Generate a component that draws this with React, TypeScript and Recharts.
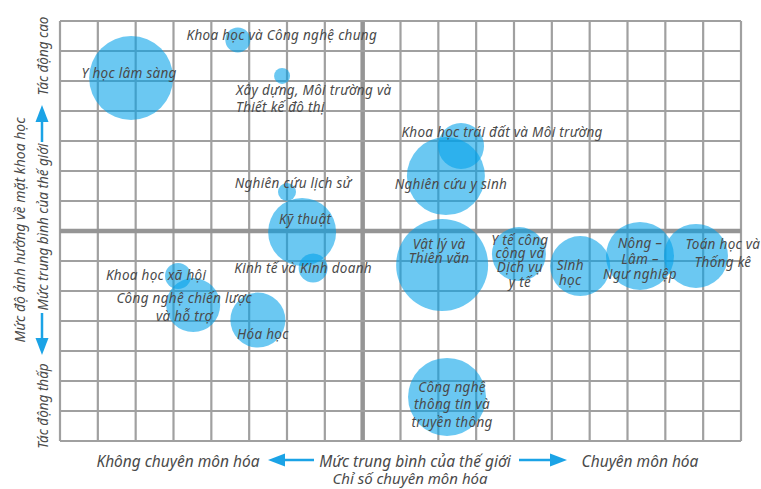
import React from 'react';
import { ScatterChart, Scatter, XAxis, YAxis, ZAxis, ReferenceLine } from 'recharts';

if (typeof document !== 'undefined') document.body.style.margin = '0';

// fields of science: specialisation index (x), scientific impact (y), bubble weight (z)
const fields = [
  'Y học lâm sàng',
  'Khoa học và Công nghệ chung',
  'Xây dựng, Môi trường và Thiết kế đô thị',
  'Nghiên cứu lịch sử',
  'Kỹ thuật',
  'Kinh tế và Kinh doanh',
  'Khoa học xã hội',
  'Công nghệ chiến lược và hỗ trợ',
  'Hóa học',
  'Khoa học trái đất và Môi trường',
  'Nghiên cứu y sinh',
  'Vật lý và Thiên văn',
  'Y tế công cộng và Dịch vụ y tế',
  'Sinh học',
  'Nông – Lâm – Ngư nghiệp',
  'Toán học và Thống kê',
  'Công nghệ thông tin và truyền thông',
];
const specialization = [1.88, 4.7, 5.87, 6.0, 6.4, 6.69, 3.12, 3.52, 5.23, 10.6, 10.2, 10.1, 12.13, 13.75, 15.33, 16.81, 10.23];
const impact = [12.1, 13.37, 12.17, 8.3, 6.97, 5.77, 5.5, 4.53, 4.03, 9.83, 8.83, 5.87, 6.23, 5.83, 6.17, 6.17, 1.47];
const weight = [1764, 156, 64, 81, 1156, 210, 169, 729, 756, 529, 1521, 2116, 729, 900, 1156, 1024, 1521];

// text shown on the chart (line breaks as printed)
const labelLines = [
  ['Y học lâm sàng'],
  ['Khoa học và Công nghệ chung'],
  ['Xây dựng, Môi trường và', 'Thiết kế đô thị'],
  ['Nghiên cứu lịch sử'],
  ['Kỹ thuật'],
  ['Kinh tế và Kinh doanh'],
  ['Khoa học xã hội'],
  ['Công nghệ chiến lược', 'và hỗ trợ'],
  ['Hóa học'],
  ['Khoa học trái đất và Môi trường'],
  ['Nghiên cứu y sinh'],
  ['Vật lý và', 'Thiên văn'],
  ['Y tế công', 'cộng và', 'Dịch vụ', 'y tế'],
  ['Sinh', 'học'],
  ['Nông –', 'Lâm –', 'Ngư nghiệp'],
  ['Toán học và', 'Thống kê'],
  ['Công nghệ', 'thông tin và', 'truyền thông'],
];

const xTicks = Array.from({ length: 19 }, (_, i) => i);
const yTicks = Array.from({ length: 15 }, (_, i) => i);
const xMean = 8;
const yMean = 7;

// label placement relative to bubble centre (layout only)
const labelLayout: { dx: number; dy: number[]; anchor?: 'start' | 'middle' }[] = [
  { dx: -2, dy: [-5] },
  { dx: 44, dy: [-5] },
  { dx: -46, dy: [14, 31], anchor: 'start' },
  { dx: 6, dy: [-9] },
  { dx: 3, dy: [-13] },
  { dx: -10, dy: [0] },
  { dx: -22, dy: [-1] },
  { dx: -9, dy: [-7, 11] },
  { dx: 5, dy: [14] },
  { dx: 41, dy: [-14] },
  { dx: 5, dy: [8] },
  { dx: -3, dy: [-21, -7] },
  { dx: 1, dy: [-14, -1, 13, 28] },
  { dx: -10, dy: [-1, 14] },
  { dx: 0, dy: [-13, 3, 18] },
  { dx: 27, dy: [-12, 6] },
  { dx: 5, dy: [-10, 7, 25] },
];

const rows = fields.map((name, i) => ({
  name,
  idx: i,
  x: specialization[i],
  y: impact[i],
  z: weight[i],
}));

const GRID = '#a0a0a0';
const BLUE = '#1ba3e6';
const TEXT = '#4a4a4a';
const FONT = '"Noto Sans", "Open Sans", sans-serif';

const BubbleLabel = (props: any) => {
  const { cx, cy, payload } = props;
  if (cx == null || cy == null || !payload) return null;
  const lay = labelLayout[payload.idx];
  const lines = labelLines[payload.idx];
  return (
    <g>
      {lines.map((line, k) => (
        <text
          key={k}
          x={cx + lay.dx}
          y={cy + lay.dy[k]}
          textAnchor={lay.anchor || 'middle'}
          dominantBaseline="central"
          fontFamily={FONT}
          fontStyle="italic"
          fontSize={13.5}
          letterSpacing={0.3}
          fill={TEXT}
        >
          {line}
        </text>
      ))}
    </g>
  );
};

const Arrow = ({ x1, y1, x2, y2 }: { x1: number; y1: number; x2: number; y2: number }) => {
  // head at (x2, y2)
  const len = Math.hypot(x2 - x1, y2 - y1);
  const ux = (x2 - x1) / len;
  const uy = (y2 - y1) / len;
  const hl = 17;
  const hw = 6.5;
  const bx = x2 - ux * hl;
  const by = y2 - uy * hl;
  return (
    <g>
      <line x1={x1} y1={y1} x2={bx} y2={by} stroke={BLUE} strokeWidth={2.5} />
      <polygon
        points={`${x2},${y2} ${bx - uy * hw},${by + ux * hw} ${bx + uy * hw},${by - ux * hw}`}
        fill={BLUE}
      />
    </g>
  );
};

export default function App() {
  const titleStyle = { fontFamily: FONT, fontStyle: 'italic' as const, fill: TEXT };
  return (
    <div style={{ position: 'relative', width: 761, height: 489, background: '#fff' }}>
      <ScatterChart width={761} height={489} margin={{ top: 21, right: 20, bottom: 48, left: 60 }}>
        <XAxis
          type="number"
          dataKey="x"
          domain={[0, 18]}
          ticks={xTicks}
          height={0}
          tick={false}
          tickLine={false}
          axisLine={false}
        />
        <YAxis
          type="number"
          dataKey="y"
          domain={[0, 14]}
          ticks={yTicks}
          width={0}
          tick={false}
          tickLine={false}
          axisLine={false}
        />
        <ZAxis type="number" dataKey="z" domain={[0, 2500]} range={[0, 2500 * Math.PI]} />
        {xTicks.map((t) => (
          <ReferenceLine
            key={`vx${t}`}
            x={t}
            stroke={t === xMean ? '#959595' : GRID}
            strokeWidth={t === xMean ? 4.5 : 2.2}
          />
        ))}
        {yTicks.map((t) => (
          <ReferenceLine
            key={`hy${t}`}
            y={t}
            stroke={t === yMean ? '#959595' : GRID}
            strokeWidth={t === yMean ? 4.5 : 2.2}
          />
        ))}
        <Scatter data={rows} fill="#00a0e9" fillOpacity={0.58} isAnimationActive={false} />
        <Scatter data={rows} shape={<BubbleLabel />} isAnimationActive={false} />
      </ScatterChart>
      <svg
        width={761}
        height={489}
        style={{ position: 'absolute', left: 0, top: 0, pointerEvents: 'none' }}
      >
        {/* x axis caption */}
        <text x={178} y={461} textAnchor="middle" dominantBaseline="central" fontSize={15.5} {...titleStyle}>
          Không chuyên môn hóa
        </text>
        <Arrow x1={314} y1={460} x2={268} y2={460} />
        <text x={415} y={461} textAnchor="middle" dominantBaseline="central" fontSize={15.5} {...titleStyle}>
          Mức trung bình của thế giới
        </text>
        <Arrow x1={519} y1={460} x2={567} y2={460} />
        <text x={640} y={461} textAnchor="middle" dominantBaseline="central" fontSize={15.5} {...titleStyle}>
          Chuyên môn hóa
        </text>
        <text x={410} y={478} textAnchor="middle" dominantBaseline="central" fontSize={15} {...titleStyle}>
          Chỉ số chuyên môn hóa
        </text>

        {/* y axis caption */}
        <text
          transform="translate(19,230) rotate(-90)"
          textAnchor="middle"
          dominantBaseline="central"
          fontSize={14}
          {...titleStyle}
        >
          Mức độ ảnh hưởng về mặt khoa học
        </text>
        <text
          transform="translate(43,56) rotate(-90)"
          textAnchor="middle"
          dominantBaseline="central"
          fontSize={13.5}
          {...titleStyle}
        >
          Tác động cao
        </text>
        <Arrow x1={42} y1={142} x2={42} y2={105} />
        <text
          transform="translate(43,227) rotate(-90)"
          textAnchor="middle"
          dominantBaseline="central"
          fontSize={13.5}
          {...titleStyle}
        >
          Mức trung bình của thế giới
        </text>
        <Arrow x1={42} y1={313} x2={42} y2={355} />
        <text
          transform="translate(43,406) rotate(-90)"
          textAnchor="middle"
          dominantBaseline="central"
          fontSize={13.5}
          {...titleStyle}
        >
          Tác động thấp
        </text>
      </svg>
    </div>
  );
}
